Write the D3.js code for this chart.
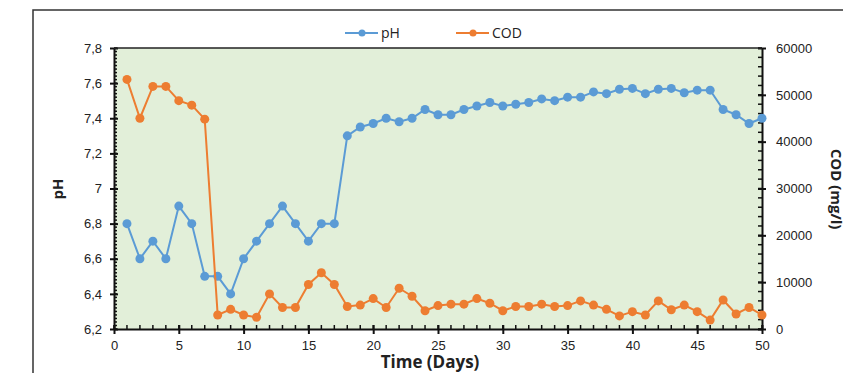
<!DOCTYPE html>
<html>
<head>
<meta charset="utf-8">
<script src="https://cdn.jsdelivr.net/npm/d3@7/dist/d3.min.js"></script>
<style>
    body { margin: 0; background: #fff; }
    svg { font-family: "Liberation Sans Narrow", "Open Sans", sans-serif; }
</style>
</head>
<body>
<svg id="chart" width="843" height="373"></svg>
<script>
var days = d3.range(1, 51);
var phValues = [6.8, 6.6, 6.7, 6.6, 6.9, 6.8, 6.5, 6.5, 6.4, 6.6,
                6.7, 6.8, 6.9, 6.8, 6.7, 6.8, 6.8, 7.3, 7.35, 7.37,
                7.4, 7.38, 7.4, 7.45, 7.42, 7.42, 7.45, 7.47, 7.49, 7.47,
                7.48, 7.49, 7.51, 7.5, 7.52, 7.52, 7.55, 7.54, 7.565, 7.57,
                7.54, 7.565, 7.57, 7.545, 7.56, 7.56, 7.45, 7.42, 7.37, 7.4];
var codValues = [53300, 45000, 51800, 51800, 48750, 47800, 44800, 3000, 4200, 3000,
                 2500, 7500, 4600, 4600, 9500, 12000, 9500, 4800, 5100, 6500,
                 4600, 8700, 7000, 3900, 5000, 5300, 5300, 6500, 5500, 3900,
                 4800, 4800, 5300, 4800, 5000, 6000, 5100, 4200, 2800, 3700,
                 3000, 6000, 4100, 5100, 3700, 1900, 6200, 3200, 4600, 3000];
var xTicks = [0, 5, 10, 15, 20, 25, 30, 35, 40, 45, 50];
var phTicks = [6.2, 6.4, 6.6, 6.8, 7, 7.2, 7.4, 7.6, 7.8];
var codTicks = [0, 10000, 20000, 30000, 40000, 50000, 60000];
var seriesNames = ["pH", "COD"];

var blue = "#5b9bd5", orange = "#ed7d31";

var svg = d3.select("#chart"),
    plotLeft = 114, plotRight = 762, plotTop = 48, plotBottom = 329;

// outer frame
svg.append("path")
   .attr("d", "M33,373V10H843")
   .attr("fill", "none")
   .attr("stroke", "#333")
   .attr("stroke-width", 1.5);

var x = d3.scaleLinear().domain([0, 50]).range([plotLeft, plotRight]),
    yPh = d3.scaleLinear().domain([6.2, 7.8]).range([plotBottom, plotTop]),
    yCod = d3.scaleLinear().domain([0, 60000]).range([plotBottom, plotTop]);

svg.append("rect")
   .attr("x", plotLeft).attr("y", plotTop)
   .attr("width", plotRight - plotLeft).attr("height", plotBottom - plotTop)
   .attr("fill", "#e2efd9");

var comma = function(d) { return String(d).replace(".", ","); };

// minor ticks
var minor = svg.append("g").attr("stroke", "#111").attr("stroke-width", 1.5);
d3.range(0, 81).forEach(function(i) {
    var v = 6.2 + i * 0.02;
    minor.append("line").attr("x1", plotLeft).attr("x2", plotLeft + 3)
         .attr("y1", yPh(v)).attr("y2", yPh(v));
});
d3.range(0, 60001, 2000).forEach(function(v) {
    minor.append("line").attr("x1", plotRight).attr("x2", plotRight - 4)
         .attr("y1", yCod(v)).attr("y2", yCod(v));
});
d3.range(0, 51, 1).forEach(function(v) {
    minor.append("line").attr("x1", x(v)).attr("x2", x(v))
         .attr("y1", plotBottom).attr("y2", plotBottom - 4);
});

var xAxis = svg.append("g")
    .attr("transform", "translate(0," + plotBottom + ")")
    .call(d3.axisBottom(x).tickValues(xTicks).tickSizeInner(5).tickSizeOuter(0).tickPadding(7));
xAxis.selectAll(".tick line").attr("y1", -4);

var yAxisL = svg.append("g")
    .attr("transform", "translate(" + plotLeft + ",0)")
    .call(d3.axisLeft(yPh).tickValues(phTicks).tickFormat(comma).tickSizeInner(4).tickSizeOuter(0).tickPadding(8));
yAxisL.selectAll(".tick line").attr("x1", 4);

var yAxisR = svg.append("g")
    .attr("transform", "translate(" + plotRight + ",0)")
    .call(d3.axisRight(yCod).tickValues(codTicks).tickFormat(d3.format("d")).tickSizeInner(4).tickSizeOuter(0).tickPadding(10));
yAxisR.selectAll(".tick line").attr("x1", -4);

[xAxis, yAxisL, yAxisR].forEach(function(a) {
    a.selectAll(".domain").attr("stroke", "#111").attr("stroke-width", 2);
    a.selectAll(".tick line").attr("stroke", "#111").attr("stroke-width", 2);
    a.selectAll("text").attr("font-size", 13).attr("fill", "#222");
});

// top border
svg.append("line").attr("x1", plotLeft).attr("x2", plotRight).attr("y1", plotTop).attr("y2", plotTop)
   .attr("stroke", "#222").attr("stroke-width", 1.5);

function drawSeries(values, yScale, color) {
    var line = d3.line()
        .x(function(d, i) { return x(days[i]); })
        .y(function(d) { return yScale(d); });
    var g = svg.append("g");
    g.append("path").datum(values)
     .attr("d", line).attr("fill", "none")
     .attr("stroke", color).attr("stroke-width", 2);
    g.selectAll("circle").data(values).enter().append("circle")
     .attr("cx", function(d, i) { return x(days[i]); })
     .attr("cy", function(d) { return yScale(d); })
     .attr("r", 4.5).attr("fill", color);
}
drawSeries(phValues, yPh, blue);
drawSeries(codValues, yCod, orange);

// axis titles
svg.append("text").attr("x", 430).attr("y", 368).attr("text-anchor", "middle")
   .attr("font-size", 17).attr("font-weight", "bold").attr("fill", "#222").text("Time (Days)");
svg.append("text").attr("transform", "translate(63,189) rotate(-90)").attr("text-anchor", "middle")
   .attr("font-size", 15).attr("font-weight", "bold").attr("fill", "#222").text("pH");
svg.append("text").attr("transform", "translate(831,189) rotate(90)").attr("text-anchor", "middle")
   .attr("font-size", 15).attr("font-weight", "bold").attr("fill", "#222").text("COD (mg/l)");

// legend
var legend = svg.append("g");
[{ x: 345, color: blue }, { x: 456, color: orange }].forEach(function(l, i) {
    legend.append("line").attr("x1", l.x).attr("x2", l.x + 33).attr("y1", 33).attr("y2", 33)
          .attr("stroke", l.color).attr("stroke-width", 2);
    legend.append("circle").attr("cx", l.x + 17).attr("cy", 33).attr("r", 3.5).attr("fill", l.color);
    legend.append("text").attr("x", l.x + 36).attr("y", 38).attr("font-size", 14)
          .attr("fill", "#222").text(seriesNames[i]);
});
</script>
</body>
</html>
